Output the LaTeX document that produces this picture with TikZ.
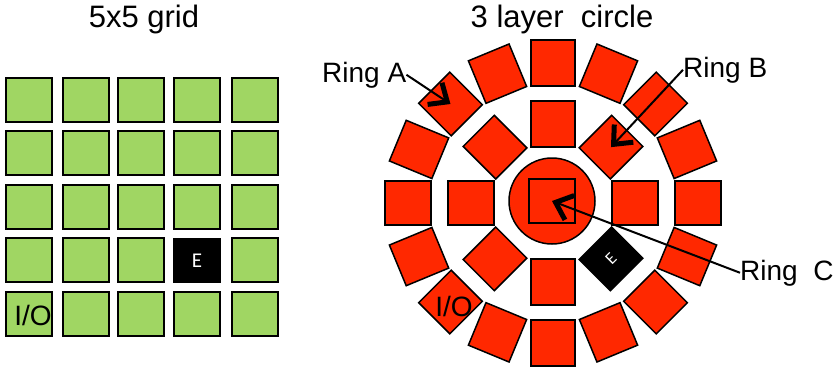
\documentclass[tikz,border=0pt]{standalone}
\usepackage{fontspec}
\setmainfont{Liberation Sans}
\newfontfamily\calib{Carlito}
\usetikzlibrary{arrows.meta}
\definecolor{gridgreen}{RGB}{160,214,99}
\definecolor{ringred}{RGB}{255,40,0}
\begin{document}
\begin{tikzpicture}[x=1pt,y=1pt,
  gsq/.style={draw=black,line width=2pt,fill=gridgreen,minimum width=46pt,minimum height=44pt,inner sep=0pt},
  esq/.style={draw=black,line width=1.5pt,fill=black,text=white,minimum width=46pt,minimum height=44pt,inner sep=0pt},
  rsq/.style={draw=black,line width=1.5pt,fill=ringred,minimum width=46pt,minimum height=44pt,inner sep=0pt},
  lbl/.style={font=\fontsize{28}{30}\selectfont,inner sep=0pt},
  ttl/.style={font=\fontsize{31}{33}\selectfont,inner sep=0pt},
  ptr/.style={line width=2pt,-{Straight Barb[length=15pt,width=26pt,line width'=5pt]}}
]
\useasboundingbox (0,0) rectangle (840,368);
% titles
\node[ttl,anchor=base] (t1) at (144,341) {5x5 grid};
\node[ttl,anchor=base] (t2) at (562,341) {3 layer\ \ circle};
% grid
\foreach \c/\x in {0/29,1/85.5,2/141,3/197,4/254.5}
  \foreach \r/\y in {0/268.5,1/214.9,2/161.3,3/107.7,4/54.1}{
    \ifnum\c\r=33
      \node[esq] (g\c\r) at (\x,\y) {\calib\fontsize{21}{21}\selectfont E};
    \else
      \node[gsq] (g\c\r) at (\x,\y) {};
    \fi
  }
\node[lbl] (gio) at (33,53) {I/O};
% circle
\coordinate (o) at (553,165);
\foreach \i in {0,...,15}
  \node[rsq,rotate=\i*22.5] (a\i) at ([shift={(\i*22.5:145 and 140)}]o) {};
\foreach \i in {0,...,6}
  \node[rsq,rotate=\i*45] (b\i) at ([shift={(\i*45:82 and 79)}]o) {};
\node[esq,rotate=45] (b7) at ([shift={(315:82 and 79)}]o) {\calib\fontsize{17}{17}\selectfont E};
\node[circle,draw=black,line width=1.5pt,fill=ringred,minimum size=86pt,inner sep=0pt] (cc) at (552,167) {};
\node[draw=black,line width=1.5pt,minimum width=46pt,minimum height=44pt,inner sep=0pt] (c) at (552,167) {};
\node[lbl] (aio) at (454,62) {I/O};
% labels
\node[lbl,anchor=base west] (ra) at (322,286) {Ring A};
\node[lbl,anchor=base west] (rb) at (683,291) {Ring B};
\node[lbl,anchor=base west] (rc) at (740,88) {Ring\ \ C};
\draw[ptr] (ra.east) -- (a6.center);
\draw[ptr] (rb.west) -- (b1.center);
\draw[ptr] (rc.west) -- (c.center);
\end{tikzpicture}
\end{document}
